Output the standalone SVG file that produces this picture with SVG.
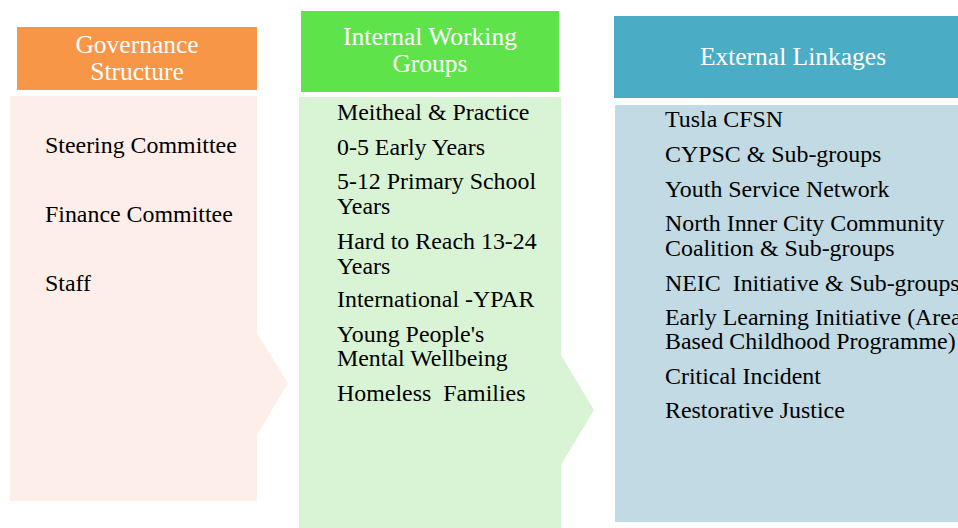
<svg xmlns="http://www.w3.org/2000/svg" width="958" height="528" viewBox="0 0 958 528">
<style>
.hd{font-family:"Liberation Serif","Times New Roman",serif;font-size:25.5px;fill:#ffffff;text-anchor:middle}
.it{font-family:"Liberation Serif","Times New Roman",serif;font-size:23.9px;fill:#000000;white-space:pre}
</style>
<rect width="958" height="528" fill="#ffffff"/>
<g id="governance">
<path d="M10,96 H257 V333 L288,383 L257,435 V501 H10 Z" fill="#FDEEE9"/>
<rect x="17" y="27" width="240" height="63" fill="#F79646"/>
<text class="hd"><tspan x="137" y="53">Governance</tspan><tspan x="137" y="80">Structure</tspan></text>
<text class="it" x="45" y="153">Steering Committee</text>
<text class="it" x="45" y="222">Finance Committee</text>
<text class="it" x="45" y="291">Staff</text>
</g>
<g id="internal">
<path d="M299,97 H561 V355 L594,410 L561,465 V528 H299 Z" fill="#D9F4D4"/>
<rect x="301" y="11" width="258" height="81" fill="#5FE34A"/>
<text class="hd"><tspan x="430" y="45">Internal Working</tspan><tspan x="430" y="72">Groups</tspan></text>
<text class="it" x="337" y="120">Meitheal &amp; Practice</text>
<text class="it" x="337" y="155">0-5 Early Years</text>
<text class="it"><tspan x="337" y="189">5-12 Primary School</tspan><tspan x="337" y="214">Years</tspan></text>
<text class="it"><tspan x="337" y="249">Hard to Reach 13-24</tspan><tspan x="337" y="274">Years</tspan></text>
<text class="it" x="337" y="307">International -YPAR</text>
<text class="it"><tspan x="337" y="342">Young People's</tspan><tspan x="337" y="366">Mental Wellbeing</tspan></text>
<text class="it" x="337" y="401" xml:space="preserve">Homeless  Families</text>
</g>
<g id="external">
<rect x="615" y="105" width="343" height="417" fill="#C1DAE3"/>
<rect x="614" y="16" width="344" height="82" fill="#4BACC6"/>
<text class="hd" x="793" y="65">External Linkages</text>
<text class="it" x="665" y="127">Tusla CFSN</text>
<text class="it" x="665" y="162">CYPSC &amp; Sub-groups</text>
<text class="it" x="665" y="197">Youth Service Network</text>
<text class="it"><tspan x="665" y="231">North Inner City Community</tspan><tspan x="665" y="256">Coalition &amp; Sub-groups</tspan></text>
<text class="it" x="665" y="291" xml:space="preserve">NEIC  Initiative &amp; Sub-groups</text>
<text class="it"><tspan x="665" y="325">Early Learning Initiative (Area</tspan><tspan x="665" y="349">Based Childhood Programme)</tspan></text>
<text class="it" x="665" y="384">Critical Incident</text>
<text class="it" x="665" y="418">Restorative Justice</text>
</g>
<g id="connectors"></g>
</svg>
